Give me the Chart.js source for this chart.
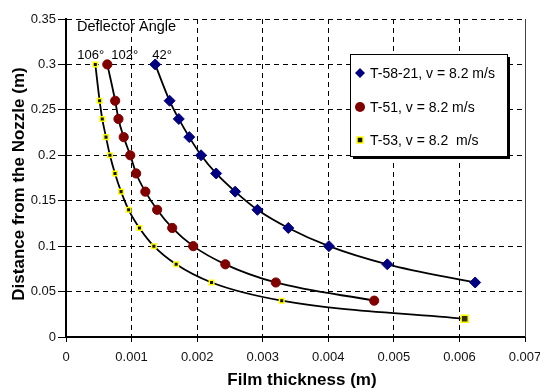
<!DOCTYPE html>
<html>
<head>
<meta charset="utf-8">
<script src="https://cdn.jsdelivr.net/npm/chart.js@4.4.1/dist/chart.umd.min.js"></script>
<style>
  html, body { margin: 0; padding: 0; background: #fff; }
  #wrap { width: 540px; height: 390px; position: relative; }
</style>
</head>
<body>
<div id="wrap"><canvas id="c" width="540" height="390"></canvas></div>
<script>
// Film thickness (m) measured at each distance from the nozzle (m)
const seriesNames = ['T-58-21, v = 8.2 m/s', 'T-51, v = 8.2 m/s', 'T-53, v = 8.2  m/s'];

const t5821Distance = [0.30, 0.26, 0.24, 0.22, 0.20, 0.18, 0.16, 0.14, 0.12, 0.10, 0.08, 0.06];
const t5821Thickness = [0.00136, 0.00158, 0.00172, 0.00188, 0.00206, 0.00229, 0.00258, 0.00292, 0.00339, 0.00401, 0.00490, 0.00624];

const t51Distance = [0.30, 0.26, 0.24, 0.22, 0.20, 0.18, 0.16, 0.14, 0.12, 0.10, 0.08, 0.06, 0.04];
const t51Thickness = [0.00063, 0.00075, 0.00080, 0.00088, 0.00098, 0.00107, 0.00121, 0.00139, 0.00162, 0.00194, 0.00243, 0.00320, 0.00470];

const t53Distance = [0.30, 0.26, 0.24, 0.22, 0.20, 0.18, 0.16, 0.14, 0.12, 0.10, 0.08, 0.06, 0.04, 0.02];
const t53Thickness = [0.000447, 0.000513, 0.000553, 0.00061, 0.00067, 0.000747, 0.00084, 0.000955, 0.00112, 0.00134, 0.00168, 0.00222, 0.00329, 0.00608];

// Axis tick labels and titles
const xTickLabels = ['0', '0.001', '0.002', '0.003', '0.004', '0.005', '0.006', '0.007'];
const yTickLabels = ['0', '0.05', '0.1', '0.15', '0.2', '0.25', '0.3', '0.35'];
const xTitle = 'Film thickness (m)';
const yTitle = 'Distance from the Nozzle (m)';

// Deflector angle labels written above the top of each curve
const angleTitle = 'Deflector Angle';
const angleLabels = ['106°', '102°', '42°'];

const FONT = "'Liberation Sans', Arial, sans-serif";

function toPoints(xs, ys) {
  return xs.map((x, i) => ({ x: x, y: ys[i] }));
}

const pts5821 = toPoints(t5821Thickness, t5821Distance);
const pts51 = toPoints(t51Thickness, t51Distance);
const pts53 = toPoints(t53Thickness, t53Distance);

function curve(points) {
  return {
    type: 'line',
    data: points,
    borderColor: '#000',
    borderWidth: 1.8,
    pointRadius: 0,
    fill: false,
    cubicInterpolationMode: 'monotone',
    order: 2
  };
}

const datasets = [
  curve(pts5821),
  curve(pts51),
  curve(pts53),
  {
    label: seriesNames[0],
    data: pts5821,
    showLine: false,
    pointStyle: 'rectRot',
    pointRadius: 5.5,
    backgroundColor: '#000080',
    borderColor: '#000080',
    borderWidth: 1,
    order: 1
  },
  {
    label: seriesNames[1],
    data: pts51,
    showLine: false,
    pointStyle: 'circle',
    pointRadius: 4.6,
    backgroundColor: '#800000',
    borderColor: '#800000',
    borderWidth: 1,
    order: 1
  },
  {
    label: seriesNames[2],
    data: pts53,
    showLine: false,
    pointStyle: 'rect',
    pointRadius: (ctx) => ctx.dataIndex === pts53.length - 1 ? 5 : 3.2,
    backgroundColor: (ctx) => ctx.dataIndex === pts53.length - 1 ? '#333300' : '#111100',
    borderColor: '#ffff00',
    borderWidth: 1.5,
    order: 1
  }
];

// Axis titles, solid right frame, deflector angle notes and the boxed legend
const decorations = {
  id: 'decorations',
  afterDraw(chart) {
    const { ctx, chartArea, scales } = chart;
    ctx.save();
    ctx.strokeStyle = '#444';
    ctx.lineWidth = 1;
    ctx.setLineDash([]);
    ctx.beginPath();
    ctx.moveTo(chartArea.right + 0.5, chartArea.top);
    ctx.lineTo(chartArea.right + 0.5, chartArea.bottom);
    ctx.stroke();

    // axis titles
    ctx.fillStyle = '#000';
    ctx.font = 'bold 17px ' + FONT;
    ctx.textAlign = 'center';
    ctx.textBaseline = 'middle';
    ctx.fillText(xTitle, 302, 380);
    ctx.save();
    ctx.translate(19, 184);
    ctx.rotate(-Math.PI / 2);
    ctx.fillText(yTitle, 0, 0);
    ctx.restore();

    ctx.textAlign = 'left';
    ctx.textBaseline = 'alphabetic';
    ctx.font = '14.5px ' + FONT;
    ctx.fillText(angleTitle, chartArea.left + 11, 31);
    ctx.font = '13px ' + FONT;
    const anglePositions = [pts53[0].x, pts51[0].x, pts5821[0].x];
    const angleShift = [-18, 4, -3];
    angleLabels.forEach((t, i) => {
      ctx.fillText(t, scales.x.getPixelForValue(anglePositions[i]) + angleShift[i], 59);
    });

    // legend box with shadow
    const bx = 350, by = 54, bw = 157, bh = 102;
    ctx.fillStyle = '#000';
    ctx.fillRect(bx + 3, by + 3, bw, bh);
    ctx.fillStyle = '#fff';
    ctx.fillRect(bx, by, bw, bh);
    ctx.strokeStyle = '#000';
    ctx.lineWidth = 1;
    ctx.strokeRect(bx + 0.5, by + 0.5, bw, bh);

    const rows = [73, 107, 140];
    const markerSets = [3, 4, 5];
    ctx.font = '14px ' + FONT;
    ctx.textBaseline = 'middle';
    markerSets.forEach((di, i) => {
      const ds = chart.data.datasets[di];
      const cx = 360, cy = rows[i];
      ctx.save();
      if (di === 3) {
        ctx.fillStyle = '#000080';
        ctx.beginPath();
        ctx.moveTo(cx, cy - 5); ctx.lineTo(cx + 5, cy); ctx.lineTo(cx, cy + 5); ctx.lineTo(cx - 5, cy);
        ctx.closePath(); ctx.fill();
      } else if (di === 4) {
        ctx.fillStyle = '#800000';
        ctx.beginPath(); ctx.arc(cx, cy, 5, 0, Math.PI * 2); ctx.fill();
      } else {
        ctx.fillStyle = '#111100';
        ctx.fillRect(cx - 3, cy - 3, 6, 6);
        ctx.strokeStyle = '#ffff00'; ctx.lineWidth = 1.5;
        ctx.strokeRect(cx - 3, cy - 3, 6, 6);
      }
      ctx.restore();
      ctx.fillStyle = '#000';
      ctx.fillText(ds.label, 370, cy + 1);
    });
    ctx.restore();
  }
};

new Chart(document.getElementById('c'), {
  type: 'scatter',
  data: { datasets: datasets },
  plugins: [decorations],
  options: {
    responsive: false,
    animation: false,
    devicePixelRatio: 1,
    layout: { padding: { top: 19, right: 15, left: 0, bottom: 0 } },
    plugins: {
      legend: { display: false },
      tooltip: { enabled: false }
    },
    scales: {
      x: {
        type: 'linear',
        min: 0,
        max: 0.007,
        afterFit(scale) {
          scale.height = 53;
          scale.paddingLeft = 0;
          scale.paddingRight = 0;
        },
        afterBuildTicks(scale) {
          scale.ticks = xTickLabels.map(v => ({ value: parseFloat(v) }));
        },
        ticks: {
          callback: (v) => xTickLabels.find(l => Math.abs(parseFloat(l) - v) < 1e-9) ?? '',
          font: { family: FONT, size: 13 },
          color: '#111',
          padding: 8,
          maxRotation: 0,
          autoSkip: false
        },
        grid: {
          color: '#000',
          lineWidth: 1,
          tickLength: 5,
          tickColor: '#000',
          tickBorderDash: []
        },
        border: { display: true, color: '#000', width: 2, dash: [5, 4] },
        title: { display: false }
      },
      y: {
        type: 'linear',
        min: 0,
        max: 0.35,
        afterFit(scale) {
          scale.width = 66;
          scale.paddingTop = 0;
          scale.paddingBottom = 0;
        },
        afterBuildTicks(scale) {
          scale.ticks = yTickLabels.map(v => ({ value: parseFloat(v) }));
        },
        ticks: {
          callback: (v) => yTickLabels.find(l => Math.abs(parseFloat(l) - v) < 1e-9) ?? '',
          font: { family: FONT, size: 13 },
          color: '#111',
          padding: 2,
          autoSkip: false
        },
        grid: {
          color: '#000',
          lineWidth: 1,
          tickLength: 8,
          tickColor: '#000',
          tickBorderDash: []
        },
        border: { display: true, color: '#000', width: 2, dash: [5, 4] },
        title: { display: false }
      }
    }
  }
});
</script>
</body>
</html>
